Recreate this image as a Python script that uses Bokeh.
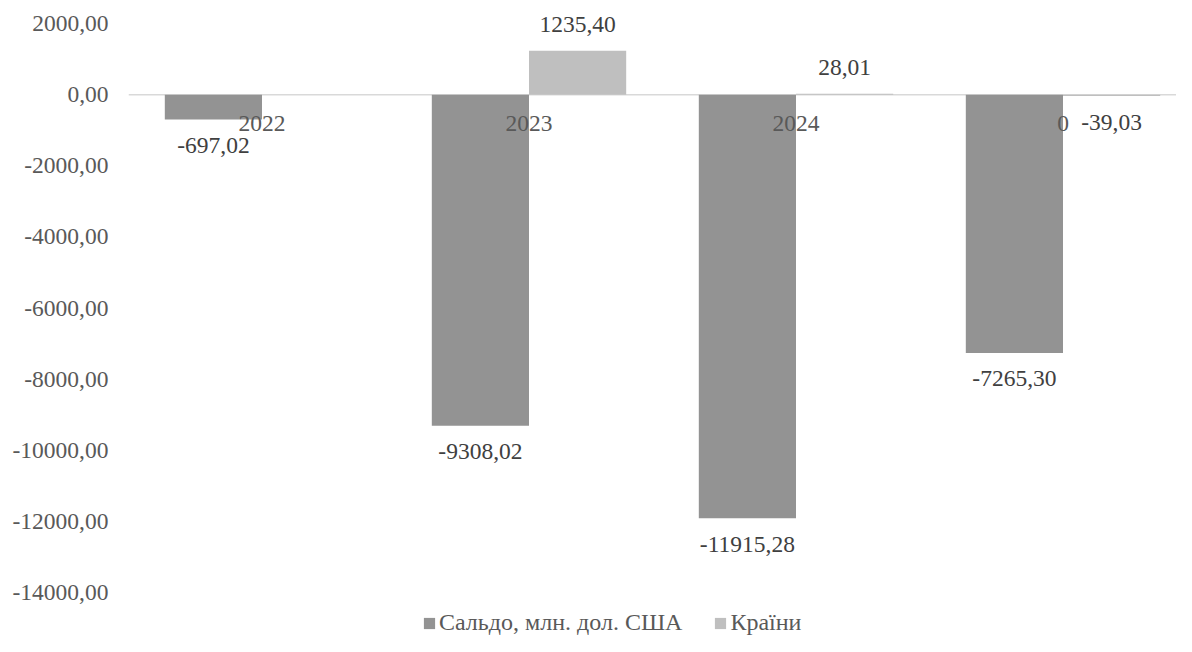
from bokeh.plotting import figure
from bokeh.models import (Range1d, FixedTicker, CustomJSTickFormatter, Span, Legend,
                          LegendItem, ColumnDataSource)
from bokeh.transform import dodge
from bokeh.core.properties import value
from bokeh.embed import file_html
from bokeh.resources import INLINE

# ---- data ----
categories = ["2022", "2023", "2024", "0"]
saldo = [-697.02, -9308.02, -11915.28, -7265.30]
krainy = [None, 1235.40, 28.01, -39.03]
series_names = ["Сальдо, млн. дол. США", "Країни"]
y_ticks = [-14000, -12000, -10000, -8000, -6000, -4000, -2000, 0, 2000]

FONT = "Liberation Serif"
FS = "23.5px"
TXT = "#595959"
LBL = "#404040"
C_DARK = "#939393"
C_LIGHT = "#bfbfbf"

xpos = [i + 0.5 for i in range(len(categories))]
OFF = 0.182
BW = 0.364
UPP = 16000 / 569  # data units per pixel


def fmt(v):
    return f"{v:.2f}".replace(".", ",")


W, H, LB = 1176, 636, 128
p = figure(width=W, height=H, output_backend="svg", toolbar_location=None,
           x_range=Range1d(0, (W - LB) / 267),
           y_range=Range1d(-14000 - 44 * UPP, 2000 + 23 * UPP),
           x_axis_location=None,
           min_border_left=LB, min_border_right=0, min_border_top=0, min_border_bottom=0)
p.outline_line_color = None
p.xgrid.visible = False
p.ygrid.visible = False
p.background_fill_color = "white"
p.border_fill_color = "white"

# zero line
p.add_layout(Span(location=0, dimension="width", line_color="#d9d9d9", line_width=1.5,
                  level="underlay"))

src1 = ColumnDataSource(dict(x=xpos, top=saldo))
k_x = [xpos[i] for i, v in enumerate(krainy) if v is not None]
k_v = [v for v in krainy if v is not None]
src2 = ColumnDataSource(dict(x=k_x, top=k_v))

r1 = p.vbar(x=dodge("x", -OFF), top="top", bottom=0, width=BW, source=src1,
            fill_color=C_DARK, line_color=None)
r2 = p.vbar(x=dodge("x", OFF), top="top", bottom=0, width=BW, source=src2,
            fill_color=C_LIGHT, line_color=None)

# value labels
for xs, vs, off in ((xpos, saldo, -OFF), (k_x, k_v, OFF)):
    ls = ColumnDataSource(dict(x=xs, y=vs, t=[fmt(v) for v in vs],
                               dy=[-26 if v >= 0 else 26 for v in vs]))
    p.text(x=dodge("x", off), y="y", text="t", y_offset="dy", source=ls,
           text_font=value(FONT), text_font_size=FS, text_color=LBL,
           text_align="center", text_baseline="middle")

# category labels next to the zero line
cs = ColumnDataSource(dict(x=xpos, y=[0] * len(xpos), t=categories))
p.text(x="x", y="y", text="t", y_offset=29, source=cs,
       text_font=value(FONT), text_font_size=FS, text_color=TXT,
       text_align="center", text_baseline="middle")

# y axis
ax = p.yaxis[0]
ax.ticker = FixedTicker(ticks=y_ticks)
ax.formatter = CustomJSTickFormatter(code="return tick.toFixed(2).replace('.', ',');")
ax.axis_line_color = None
ax.major_tick_line_color = None
ax.minor_tick_line_color = None
ax.major_label_standoff = 14
ax.major_label_text_font = FONT
ax.major_label_text_font_size = FS
ax.major_label_text_color = TXT

legend = Legend(items=[LegendItem(label=series_names[0], renderers=[r1]),
                       LegendItem(label=series_names[1], renderers=[r2])],
                orientation="horizontal", location=(294, 0),
                padding=0, margin=0, spacing=31, label_standoff=3,
                glyph_width=14, glyph_height=14, label_height=24,
                border_line_color=None, background_fill_alpha=0,
                label_text_font=FONT, label_text_font_size="24px", label_text_color=TXT)
p.add_layout(legend, "center")

open("out.html", "w").write(file_html(p, INLINE))
